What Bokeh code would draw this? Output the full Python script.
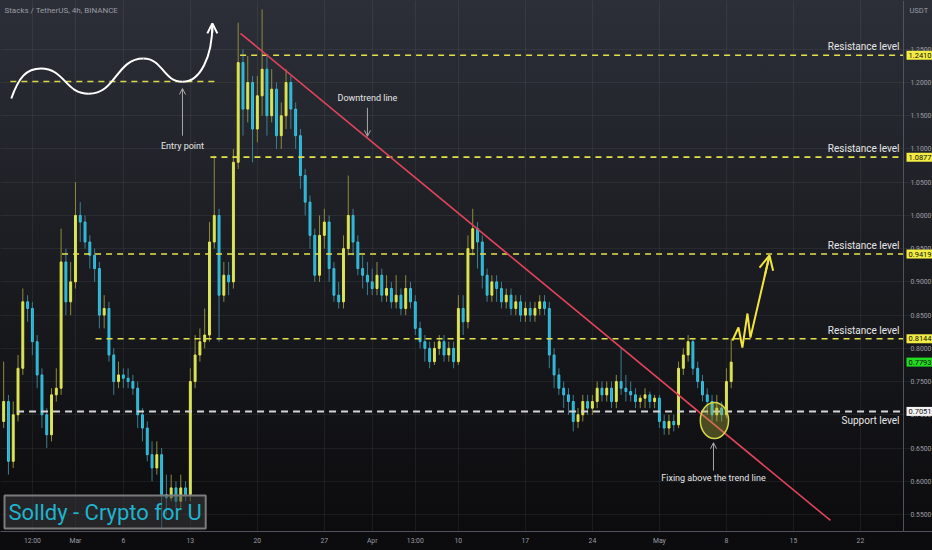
from bokeh.plotting import figure
from bokeh.models import Range1d, FixedTicker, NumeralTickFormatter, Label, Arrow, OpenHead
from bokeh.embed import file_html
from bokeh.resources import INLINE

# days are counted from 1 March, one candle every 12 hours
start_day = -7.5
step = 0.5
first_open = 0.69

closes = [
    0.72, 0.63, 0.70, 0.77, 0.87, 0.86, 0.81, 0.76, 0.70, 0.67,
    0.73, 0.74, 0.93, 0.87, 0.90, 1.00, 0.99, 0.96, 0.94, 0.92,
    0.85, 0.86, 0.79, 0.75, 0.76, 0.755, 0.75, 0.74, 0.70, 0.68,
    0.64, 0.62, 0.64, 0.58, 0.575, 0.59, 0.57, 0.59, 0.58, 0.75,
    0.79, 0.81, 0.82, 0.96, 1.00, 0.88, 0.91, 0.90, 1.08, 1.23,
    1.16, 1.20, 1.13, 1.18, 1.22, 1.15, 1.19, 1.12, 1.15, 1.20,
    1.16, 1.12, 1.06, 1.02, 0.97, 0.91, 0.97, 0.99, 0.92, 0.88,
    0.87, 0.95, 1.00, 0.96, 0.92, 0.91, 0.90, 0.89, 0.91, 0.88,
    0.89, 0.87, 0.88, 0.86, 0.89, 0.87, 0.83, 0.81, 0.80, 0.78,
    0.80, 0.81, 0.79, 0.80, 0.78, 0.86, 0.84, 0.95, 0.98, 0.96,
    0.91, 0.88, 0.90, 0.89, 0.87, 0.88, 0.86, 0.87, 0.85, 0.86,
    0.85, 0.86, 0.87, 0.86, 0.79, 0.76, 0.74, 0.73, 0.72, 0.69,
    0.70, 0.72, 0.71, 0.72, 0.74, 0.73, 0.74, 0.72, 0.75, 0.74,
    0.735, 0.73, 0.72, 0.725, 0.73, 0.72, 0.725, 0.69, 0.68, 0.69,
    0.685, 0.77, 0.79, 0.81, 0.77, 0.75, 0.73, 0.72, 0.70, 0.71,
    0.70, 0.75, 0.7793,
]
highs = [
    0.78, 0.73, 0.72, 0.79, 0.89, 0.88, 0.87, 0.82, 0.77, 0.71,
    0.74, 0.77, 0.98, 0.95, 0.93, 1.05, 1.02, 1.00, 0.97, 0.95,
    0.93, 0.88, 0.87, 0.80, 0.78, 0.77, 0.77, 0.76, 0.75, 0.71,
    0.69, 0.66, 0.66, 0.65, 0.61, 0.61, 0.60, 0.61, 0.60, 0.77,
    0.82, 0.83, 0.86, 0.99, 1.09, 1.01, 0.93, 0.93, 1.10, 1.29,
    1.25, 1.24, 1.21, 1.21, 1.31, 1.24, 1.22, 1.20, 1.17, 1.22,
    1.21, 1.17, 1.13, 1.07, 1.03, 0.98, 1.00, 1.01, 1.00, 0.93,
    0.90, 0.97, 1.06, 1.01, 0.97, 0.94, 0.93, 0.92, 0.93, 0.92,
    0.91, 0.90, 0.91, 0.89, 0.91, 0.90, 0.88, 0.84, 0.82, 0.81,
    0.81, 0.82, 0.82, 0.81, 0.81, 0.88, 0.88, 0.97, 1.01, 0.99,
    0.97, 0.92, 0.91, 0.91, 0.90, 0.89, 0.89, 0.88, 0.88, 0.87,
    0.87, 0.87, 0.88, 0.88, 0.87, 0.80, 0.77, 0.75, 0.74, 0.73,
    0.71, 0.73, 0.73, 0.73, 0.75, 0.75, 0.75, 0.75, 0.76, 0.80,
    0.76, 0.75, 0.74, 0.73, 0.74, 0.735, 0.73, 0.73, 0.70, 0.70,
    0.70, 0.78, 0.80, 0.82, 0.815, 0.78, 0.76, 0.74, 0.73, 0.73,
    0.72, 0.77, 0.815,
]
lows = [
    0.68, 0.61, 0.62, 0.69, 0.76, 0.84, 0.79, 0.74, 0.68, 0.65,
    0.66, 0.72, 0.73, 0.85, 0.85, 0.89, 0.96, 0.95, 0.92, 0.90,
    0.83, 0.83, 0.78, 0.73, 0.74, 0.74, 0.74, 0.73, 0.68, 0.66,
    0.63, 0.60, 0.61, 0.53, 0.55, 0.57, 0.56, 0.56, 0.57, 0.57,
    0.74, 0.78, 0.80, 0.81, 0.95, 0.81, 0.87, 0.88, 0.89, 1.07,
    1.12, 1.14, 1.08, 1.11, 1.15, 1.12, 1.14, 1.10, 1.10, 1.13,
    1.13, 1.10, 1.04, 1.00, 0.95, 0.90, 0.90, 0.95, 0.90, 0.87,
    0.86, 0.86, 0.94, 0.94, 0.91, 0.89, 0.88, 0.88, 0.88, 0.87,
    0.87, 0.86, 0.86, 0.85, 0.85, 0.86, 0.82, 0.80, 0.78, 0.77,
    0.775, 0.79, 0.78, 0.78, 0.77, 0.775, 0.82, 0.83, 0.94, 0.92,
    0.89, 0.87, 0.87, 0.87, 0.86, 0.86, 0.85, 0.85, 0.84, 0.84,
    0.84, 0.84, 0.85, 0.85, 0.77, 0.74, 0.73, 0.71, 0.70, 0.675,
    0.68, 0.69, 0.70, 0.70, 0.71, 0.72, 0.72, 0.71, 0.71, 0.73,
    0.72, 0.72, 0.71, 0.71, 0.71, 0.71, 0.71, 0.68, 0.67, 0.67,
    0.675, 0.68, 0.76, 0.78, 0.76, 0.74, 0.72, 0.70, 0.69, 0.69,
    0.69, 0.695, 0.74,
]

tick_days = [-4.5, 0, 5, 12, 19, 26, 31, 35.5, 40, 47, 54, 61, 68, 75, 82]
tick_labels = ["12:00", "Mar", "6", "13", "20", "27", "Apr", "13:00",
               "10", "17", "24", "May", "8", "15", "22"]
price_ticks = [0.55, 0.60, 0.65, 0.70, 0.75, 0.80, 0.85, 0.90,
               0.95, 1.00, 1.05, 1.10, 1.15, 1.20, 1.25]

res_levels = [1.2410, 1.0877, 0.9419, 0.8144]
res_starts = [17.2, 14.1, -1.4, 2.1]
support_level = 0.7051
support_start = -6.1
last_price = 0.7793

# drawing on the chart
entry_level = 1.2015
entry_span = [-6.8, 14.9]
wave_x = [-6.7, -3.6, 1.4, 7.1, 11.2, 14.3]
wave_y = [1.176, 1.221, 1.183, 1.236, 1.201, 1.287]
entry_arrow = (11.18, 1.120, 1.191)
down_arrow = (30.5, 1.162, 1.119)
fix_arrow = (66.65, 0.616, 0.658)
trend_x = [17.24, 78.87]
trend_y = [1.274, 0.541]
proj_x = [68.63, 69.26, 69.67, 70.20, 70.51, 72.50]
proj_y = [0.8118, 0.8314, 0.8013, 0.8524, 0.8163, 0.9397]
circle_day, circle_price = 66.75, 0.6914

W, H = 932, 550
SCALE_W = 29          # width of the price scale column
x_start, x_end = -7.83, 86.5          # x_end is where the price scale sits
y_start, y_end = 0.5244, 1.3234

FONT = "Roboto"
GRAY = "#9a9ca4"


def main():
    days = [start_day + step * i for i in range(len(closes))]
    opens = [first_open] + closes[:-1]

    up = [i for i in range(len(closes)) if closes[i] >= opens[i]]
    dn = [i for i in range(len(closes)) if closes[i] < opens[i]]

    x_far = x_start + (x_end - x_start) * W / (W - SCALE_W)

    p = figure(width=W, height=H,
               x_range=Range1d(x_start, x_far), y_range=Range1d(y_start, y_end),
               y_axis_location="right", output_backend="svg",
               toolbar_location=None, min_border=0, min_border_bottom=19)
    p.styles = {"background": "linear-gradient(to bottom, #2c2f38 0%, #1b1c21 48%, "
                              "#0c0c0e 96%, #0c0c0e 100%)"}
    p.background_fill_alpha = 0
    p.border_fill_alpha = 0
    p.outline_line_color = None

    # axes
    p.xaxis.ticker = FixedTicker(ticks=tick_days)
    p.xaxis.major_label_overrides = {d: s for d, s in zip(tick_days, tick_labels)}
    p.yaxis.ticker = FixedTicker(ticks=price_ticks)
    p.yaxis.formatter = NumeralTickFormatter(format="0.0000")
    p.yaxis.fixed_location = x_end
    for ax in (p.xaxis, p.yaxis):
        ax.axis_line_color = "#50535c"
        ax.major_tick_line_color = None
        ax.minor_tick_line_color = None
        ax.major_tick_out = 0
        ax.major_tick_in = 0
        ax.minor_tick_out = 0
        ax.minor_tick_in = 0
        ax.major_label_text_color = GRAY
        ax.major_label_text_font = FONT
        ax.major_label_text_font_size = "6.8px"
    p.yaxis.major_label_standoff = 7
    p.xaxis.major_label_standoff = 5
    p.grid.grid_line_color = "#ffffff"
    p.grid.grid_line_alpha = 0.06

    # candles
    p.segment([days[i] for i in up], [lows[i] for i in up],
              [days[i] for i in up], [highs[i] for i in up],
              line_color="#8e8b3c", line_width=1)
    p.segment([days[i] for i in dn], [lows[i] for i in dn],
              [days[i] for i in dn], [highs[i] for i in dn],
              line_color="#3d7e90", line_width=1)
    p.vbar(x=[days[i] for i in up], width=0.2,
           bottom=[opens[i] for i in up], top=[closes[i] for i in up],
           fill_color="#b6ee84", line_color="#f0e23c", line_width=1)
    p.vbar(x=[days[i] for i in dn], width=0.2,
           bottom=[closes[i] for i in dn], top=[opens[i] for i in dn],
           fill_color="#2aaecd", line_color="#38c3e2", line_width=1)

    # levels
    p.segment(res_starts, res_levels, [x_end] * len(res_levels), res_levels,
              line_color="#e3e14b", line_width=1.6, line_dash="6 5")
    p.segment([support_start], [support_level], [x_end], [support_level],
              line_color="#d4d4d4", line_width=2, line_dash="7 5")
    p.segment([entry_span[0]], [entry_level], [entry_span[1]], [entry_level],
              line_color="#d8d84a", line_width=1.6, line_dash="6 5")

    # trend line
    p.line(trend_x, trend_y, line_color="#e2435c", line_width=1.6)

    # hand drawn wave
    bx0, by0, bx1, by1, cx0, cy0, cx1, cy1 = [], [], [], [], [], [], [], []
    n = len(wave_x)
    for k in range(n - 1):
        x0, y0, x1, y1 = wave_x[k], wave_y[k], wave_x[k + 1], wave_y[k + 1]
        mid = (x0 + x1) / 2
        bx0.append(x0); by0.append(y0); bx1.append(x1); by1.append(y1)
        if k == 0:
            cx0.append(x0 + 0.25 * (x1 - x0)); cy0.append(y0 + 0.7 * (y1 - y0))
            cx1.append(mid); cy1.append(y1)
        elif k == n - 2:
            cx0.append(x0 + 0.6 * (x1 - x0)); cy0.append(y0)
            cx1.append(x1); cy1.append(y0 + 0.45 * (y1 - y0))
        else:
            cx0.append(mid); cy0.append(y0)
            cx1.append(mid); cy1.append(y1)
    p.bezier(x0=bx0, y0=by0, x1=bx1, y1=by1, cx0=cx0, cy0=cy0, cx1=cx1, cy1=cy1,
             line_color="white", line_width=2)
    p.add_layout(Arrow(end=OpenHead(size=10, line_color="white", line_width=2),
                       x_start=wave_x[-1], y_start=wave_y[-1] - 0.012,
                       x_end=wave_x[-1], y_end=wave_y[-1] + 0.002,
                       line_color="white", line_width=2))

    # circle at the breakout
    p.ellipse(x=[circle_day], y=[circle_price], width=2.95, height=0.054,
              fill_color="#b8b83a", fill_alpha=0.35,
              line_color="#d6d64a", line_width=1.5)

    # projected path
    p.line(proj_x, proj_y, line_color="#f2e53c", line_width=2)
    ax0 = proj_x[-1] - 0.25 * (proj_x[-1] - proj_x[-2])
    ay0 = proj_y[-1] - 0.25 * (proj_y[-1] - proj_y[-2])
    p.add_layout(Arrow(end=OpenHead(size=14, line_color="#f2e53c", line_width=2),
                       x_start=ax0, y_start=ay0, x_end=proj_x[-1], y_end=proj_y[-1],
                       line_color="#f2e53c", line_width=2))

    # small pointers
    for (xa, y_tail, y_tip) in (entry_arrow, down_arrow, fix_arrow):
        p.add_layout(Arrow(end=OpenHead(size=6, line_color="#a8a8a8", line_width=1),
                           x_start=xa, y_start=y_tail, x_end=xa, y_end=y_tip,
                           line_color="#a8a8a8", line_width=1))

    def note(x, y, text, **kw):
        opts = dict(text_font=FONT, text_font_size="9px", text_color="#e6e6e6",
                    text_align="center", text_baseline="middle")
        opts.update(kw)
        p.add_layout(Label(x=x, y=y, text=text, **opts))

    note(entry_arrow[0], 1.105, "Entry point")
    note(down_arrow[0], 1.177, "Downtrend line")
    note(fix_arrow[0], 0.605, "Fixing above the trend line")
    for lvl in res_levels:
        note(x_end, lvl, "Resistance level", x_offset=-4, y_offset=3,
             text_align="right", text_baseline="bottom", text_font_size="10px")
    note(x_end, support_level, "Support level", x_offset=-4, y_offset=-4,
         text_align="right", text_baseline="top", text_font_size="10px")

    # header texts
    note(x_start, y_end, "Stacks / TetherUS, 4h, BINANCE", x_offset=4, y_offset=-5,
         text_align="left", text_baseline="top", text_color=GRAY, text_font_size="8px")
    note(x_end, y_end, "USDT", x_offset=6, y_offset=-5, text_align="left",
         text_baseline="top", text_color=GRAY, text_font_size="7.5px")

    # price tags on the scale
    tags = [(lvl, "#f2ec45") for lvl in res_levels]
    tags += [(last_price, "#22dc22"), (support_level, "#f4f4f4")]
    for lvl, bg in tags:
        note(x_end, lvl, "%.4f" % lvl, x_offset=3, text_align="left",
             text_color="#111111", text_font_size="7.5px",
             background_fill_color=bg, padding=2)

    # watermark
    note(x_start, y_start, "Solldy - Crypto for U", x_offset=4, y_offset=3,
         text_align="left", text_baseline="bottom", text_color="#1fb3cc",
         text_font_size="22px", background_fill_color="#3a3b3e",
         background_fill_alpha=0.55, border_line_color="#7b7b7b",
         border_line_width=2, padding=4)

    with open("out.html", "w") as f:
        f.write(file_html(p, INLINE))


if __name__ == "__main__":
    main()
